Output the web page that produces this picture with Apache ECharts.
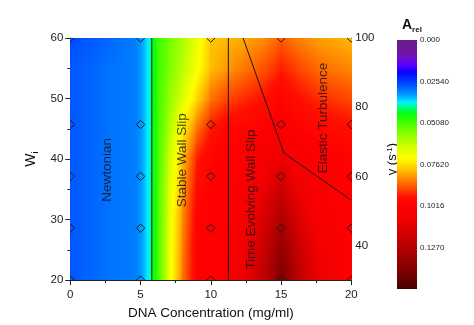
<!DOCTYPE html>
<html><head><meta charset="utf-8">
<script src="https://cdn.jsdelivr.net/npm/echarts@6/dist/echarts.min.js"></script>
<style>html,body{margin:0;padding:0;background:#fff}#c{width:474px;height:325px}</style>
</head><body><div id="c"></div>
<script>
// ---- data ----
const concTicks = [0, 5, 10, 15, 20];
const wiTicks = [20, 30, 40, 50, 60];
const gammaTicks = [40, 60, 80, 100];
const cbLabels = ['0.000', '0.02540', '0.05080', '0.07620', '0.1016', '0.1270'];

// A_rel field: columns = DNA concentration, rows = Wi
const fieldConc = [0, 2.5, 4.6, 5.0, 5.4, 5.7, 5.85, 6.2, 7, 8, 9, 10, 11, 12.5, 14, 15, 16, 17.5, 20];
const fieldWi = [20, 25, 30, 35, 40, 45, 50, 55, 60];
const rowWi20 = [.028, .030, .031, .033, .037, .040, .044, .050, .068, .087, .101, .101, .104, .112, .127, .142, .128, .112, .102];
const rowWi25 = [.028, .030, .031, .033, .037, .040, .044, .050, .068, .086, .101, .101, .103, .110, .124, .137, .124, .110, .101];
const rowWi30 = [.028, .030, .031, .033, .037, .040, .044, .050, .067, .085, .100, .101, .102, .107, .119, .130, .118, .106, .101];
const rowWi35 = [.028, .030, .031, .033, .037, .040, .044, .050, .066, .083, .098, .101, .102, .105, .113, .121, .112, .104, .101];
const rowWi40 = [.028, .030, .031, .033, .037, .040, .044, .050, .064, .080, .095, .100, .101, .103, .107, .111, .106, .103, .100];
const rowWi45 = [.028, .030, .031, .033, .037, .040, .044, .050, .061, .074, .087, .096, .099, .100, .101, .103, .101, .099, .097];
const rowWi50 = [.028, .030, .031, .033, .037, .040, .044, .050, .058, .067, .077, .087, .091, .094, .097, .100, .097, .094, .091];
const rowWi55 = [.028, .030, .031, .033, .037, .040, .044, .050, .056, .063, .071, .080, .083, .087, .091, .095, .092, .088, .085];
const rowWi60 = [.027, .029, .031, .033, .037, .040, .044, .050, .055, .061, .069, .079, .080, .082, .085, .089, .086, .083, .080];
const fieldRows = [rowWi20, rowWi25, rowWi30, rowWi35, rowWi40, rowWi45, rowWi50, rowWi55, rowWi60];

// measurement points (diamonds)
const pointConc = [0, 5, 10, 15, 20];
const pointWi = [20, 28.57, 37.14, 45.71, 60];

// regime boundaries
const boundaryNewtonian = [[5.8, 20], [5.8, 60]];
const boundaryStable = [[11.25, 20], [11.25, 60]];
const boundaryElastic = [[12.3, 60], [15.2, 41], [20, 33.2]];

// regime names and where they are written
const regionNames = ['Newtonian', 'Stable Wall Slip', 'Time Evolving Wall Slip', 'Elastic Turbulence'];
const regionLabelPos = [[2.6, 38.2], [8.0, 39.8], [12.85, 33.3], [18.0, 46.8]];

const aMax = 0.1524;

// ---- palette ----
const rampStops = [[0, '#6a1b8a'], [0.0061, '#6e1898'], [0.011, '#7010c8'], [0.0153, '#5a00ff'], [0.0196, '#1000ff'],
  [0.0226, '#0020ff'], [0.0275, '#0050ff'], [0.0337, '#00a0ff'], [0.038, '#00f0ff'], [0.041, '#00ff90'],
  [0.0447, '#00ff10'], [0.049, '#30ff00'], [0.0581, '#90ff00'], [0.0673, '#e0ff00'], [0.0722, '#ffff00'],
  [0.0796, '#ffc000'], [0.0857, '#ff8000'], [0.0918, '#ff4000'], [0.096, '#ff1000'], [0.101, '#ff0000'],
  [0.110, '#f00000'], [0.119, '#d00000'], [0.1285, '#b00000'], [0.1408, '#800000'], [0.1524, '#4a0000']];
function hex2rgb(h) { return [parseInt(h.substr(1, 2), 16), parseInt(h.substr(3, 2), 16), parseInt(h.substr(5, 2), 16)]; }
const rampRGB = rampStops.map(s => [s[0], hex2rgb(s[1])]);
function ramp(v) {
  if (v <= rampRGB[0][0]) return 'rgb(' + rampRGB[0][1].join(',') + ')';
  for (let i = 1; i < rampRGB.length; i++) {
    if (v <= rampRGB[i][0]) {
      const a = rampRGB[i - 1], b = rampRGB[i];
      const t = (v - a[0]) / (b[0] - a[0]);
      const c = a[1].map((x, k) => Math.round(x + (b[1][k] - x) * t));
      return 'rgb(' + c.join(',') + ')';
    }
  }
  return 'rgb(' + rampRGB[rampRGB.length - 1][1].join(',') + ')';
}

// cells between read values
const cells = [];
for (let r = 0; r < fieldWi.length - 1; r++)
  for (let c = 0; c < fieldConc.length - 1; c++)
    cells.push([fieldConc[c], fieldWi[r], fieldConc[c + 1], fieldWi[r + 1], r, c]);

function renderCell(params, api) {
  const x0 = api.value(0), y0 = api.value(1), x1 = api.value(2), y1 = api.value(3);
  const r = api.value(4), c = api.value(5);
  const pa = api.coord([x0, y0]), pb = api.coord([x1, y1]);
  const v00 = fieldRows[r][c], v01 = fieldRows[r][c + 1], v10 = fieldRows[r + 1][c], v11 = fieldRows[r + 1][c + 1];
  const left = Math.floor(pa[0]), right = Math.ceil(pb[0]);
  const bottom = Math.ceil(pa[1]), top = Math.floor(pb[1]);
  const Hf = pa[1] - pb[1];
  const Wf = pb[0] - pa[0];
  const children = [];
  for (let y = top; y < bottom; y += 2) {
    const yc = y + 1;
    let t = (pa[1] - yc) / Hf; t = Math.max(0, Math.min(1, t));
    const vl = v00 + (v10 - v00) * t, vr = v01 + (v11 - v01) * t;
    const stops = [];
    const m = 8;
    for (let s = 0; s <= m; s++) {
      const f = s / m;
      const px = left + (right - left) * f;
      let u = (px - pa[0]) / Wf; u = Math.max(0, Math.min(1, u));
      stops.push({ offset: f, color: ramp(vl + (vr - vl) * u) });
    }
    children.push({
      type: 'rect', shape: { x: left, y: y, width: right - left + 1, height: 3 },
      style: { fill: new echarts.graphic.LinearGradient(0, 0, 1, 0, stops) }, silent: true
    });
  }
  return { type: 'group', children };
}

function renderBar(params, api) {
  const p0 = api.coord([api.value(0), api.value(1)]);
  const p1 = api.coord([api.value(2), api.value(3)]);
  const stops = rampStops.map(s => ({ offset: s[0] / aMax, color: s[1] }));
  return {
    type: 'rect',
    shape: { x: Math.min(p0[0], p1[0]), y: Math.min(p0[1], p1[1]), width: Math.abs(p1[0] - p0[0]), height: Math.abs(p1[1] - p0[1]) },
    style: { fill: new echarts.graphic.LinearGradient(0, 0, 0, 1, stops) }
  };
}

function renderDiamond(params, api) {
  const p = api.coord([api.value(0), api.value(1)]);
  const s = 4.2;
  return {
    type: 'polygon',
    shape: { points: [[p[0], p[1] - s], [p[0] + s, p[1]], [p[0], p[1] + s], [p[0] - s, p[1]]] },
    style: { fill: 'none', stroke: '#1a1a1a', lineWidth: 1 }
  };
}

const diamonds = [];
pointConc.forEach(x => pointWi.forEach(y => diamonds.push([x, y])));
const regionData = regionNames.map((n, i) => ({ name: n, value: regionLabelPos[i] }));

const FONT = 'Liberation Sans, Arial, Helvetica, sans-serif';
const AX = '#222';

const chart = echarts.init(document.getElementById('c'), null, { renderer: 'canvas' });
chart.setOption({
  animation: false,
  backgroundColor: '#fff',
  textStyle: { fontFamily: FONT },
  title: {
    text: '{a|A}{s|rel}', left: 397, top: 12,
    textStyle: { rich: { a: { fontSize: 14, color: '#111', fontFamily: FONT }, s: { fontSize: 8, color: '#111', fontFamily: FONT, padding: [9, 0, 0, 0] } } }
  },
  grid: [
    { left: 70.3, right: 122.7, top: 38, bottom: 41.3 },
    { left: 397, top: 40, width: 20, height: 249 }
  ],
  xAxis: [
    {
      type: 'value', gridIndex: 0, min: 0, max: 20, interval: 5, position: 'bottom',
      axisLine: { onZero: false, lineStyle: { color: AX, width: 1 } },
      axisTick: { length: 5, lineStyle: { color: AX } },
      minorTick: { show: true, splitNumber: 2, length: 3, lineStyle: { color: AX } },
      axisLabel: { fontSize: 11.5, color: AX, margin: 9, fontFamily: FONT, formatter: v => concTicks.includes(v) ? String(v) : '' },
      splitLine: { show: false }, minorSplitLine: { show: false },
      name: 'DNA Concentration (mg/ml)', nameLocation: 'middle', nameGap: 25,
      nameTextStyle: { fontSize: 13.5, color: '#111', fontFamily: FONT }
    },
    {
      type: 'value', gridIndex: 0, min: 0, max: 20, position: 'top',
      axisLine: { onZero: false, lineStyle: { color: AX, width: 1 } },
      axisTick: { show: false }, axisLabel: { show: false }, splitLine: { show: false }
    },
    { type: 'value', gridIndex: 1, min: 0, max: 1, show: false }
  ],
  yAxis: [
    {
      type: 'value', gridIndex: 0, min: 20, max: 60, interval: 10, position: 'left',
      axisLine: { onZero: false, lineStyle: { color: AX, width: 1 } },
      axisTick: { length: 5, lineStyle: { color: AX } },
      minorTick: { show: true, splitNumber: 2, length: 3, lineStyle: { color: AX } },
      axisLabel: { fontSize: 11.5, color: AX, margin: 7, fontFamily: FONT, formatter: v => wiTicks.includes(v) ? String(v) : '' },
      splitLine: { show: false }, minorSplitLine: { show: false },
      name: '{w|W}{i|i}', nameLocation: 'middle', nameGap: 26, nameRotate: 90,
      nameTextStyle: { rich: { w: { fontSize: 14, color: '#111', fontFamily: FONT }, i: { fontSize: 9, color: '#111', fontFamily: FONT, padding: [8, 0, 0, 0] } } }
    },
    {
      type: 'value', gridIndex: 0, min: 30, max: 100, interval: 10, position: 'right',
      axisLine: { onZero: false, lineStyle: { color: AX, width: 1 } },
      axisTick: { inside: true, length: 3, lineStyle: { color: AX } },
      axisLabel: { fontSize: 11.5, color: AX, margin: 4, fontFamily: FONT, formatter: v => gammaTicks.includes(v) ? String(v) : '' },
      splitLine: { show: false },
      name: '{g|γ (s}{p|-1}{g|)}', nameLocation: 'middle', nameGap: 31, nameRotate: 90,
      nameTextStyle: { rich: { g: { fontSize: 13, color: '#111', fontFamily: FONT }, p: { fontSize: 8, color: '#111', fontFamily: FONT, padding: [0, 0, 7, 0] } } }
    },
    {
      type: 'value', gridIndex: 0, min: 30, max: 100, interval: 10, position: 'right',
      axisLine: { show: false, onZero: false },
      axisTick: { inside: true, length: 6, customValues: gammaTicks, lineStyle: { color: AX } },
      axisLabel: { show: false }, splitLine: { show: false }
    },
    {
      type: 'value', gridIndex: 1, min: 0, max: aMax, interval: 0.0254, inverse: true, position: 'right',
      axisLine: { show: false, onZero: false }, axisTick: { show: false }, splitLine: { show: false },
      axisLabel: { fontSize: 8, color: '#222', margin: 3, fontFamily: FONT, formatter: v => { const i = Math.round(v / 0.0254); return cbLabels[i] || ''; } }
    }
  ],
  series: [
    {
      type: 'custom', xAxisIndex: 0, yAxisIndex: 0, renderItem: renderCell, data: cells,
      encode: { x: [0, 2], y: [1, 3] }, z: 1, silent: true, clip: true
    },
    { type: 'line', xAxisIndex: 0, yAxisIndex: 0, data: boundaryNewtonian, showSymbol: false, lineStyle: { color: '#1a1a1a', width: 1 }, z: 5 },
    { type: 'line', xAxisIndex: 0, yAxisIndex: 0, data: boundaryStable, showSymbol: false, lineStyle: { color: '#1a1a1a', width: 1 }, z: 5 },
    { type: 'line', xAxisIndex: 0, yAxisIndex: 0, data: boundaryElastic, showSymbol: false, lineStyle: { color: '#1a1a1a', width: 1 }, z: 5 },
    {
      type: 'custom', xAxisIndex: 0, yAxisIndex: 0, renderItem: renderDiamond, data: diamonds, clip: true,
      encode: { x: 0, y: 1 }, z: 6, silent: true
    },
    {
      type: 'scatter', xAxisIndex: 0, yAxisIndex: 0, data: regionData, symbolSize: 0, z: 7,
      label: { show: true, position: 'inside', rotate: 90, formatter: p => p.name, fontSize: 13.5, color: '#111', fontFamily: FONT }
    },
    {
      type: 'custom', xAxisIndex: 2, yAxisIndex: 3, renderItem: renderBar, data: [[0, 0, 1, aMax]],
      encode: { x: [0, 2], y: [1, 3] }, silent: true
    }
  ]
});
</script></body></html>
